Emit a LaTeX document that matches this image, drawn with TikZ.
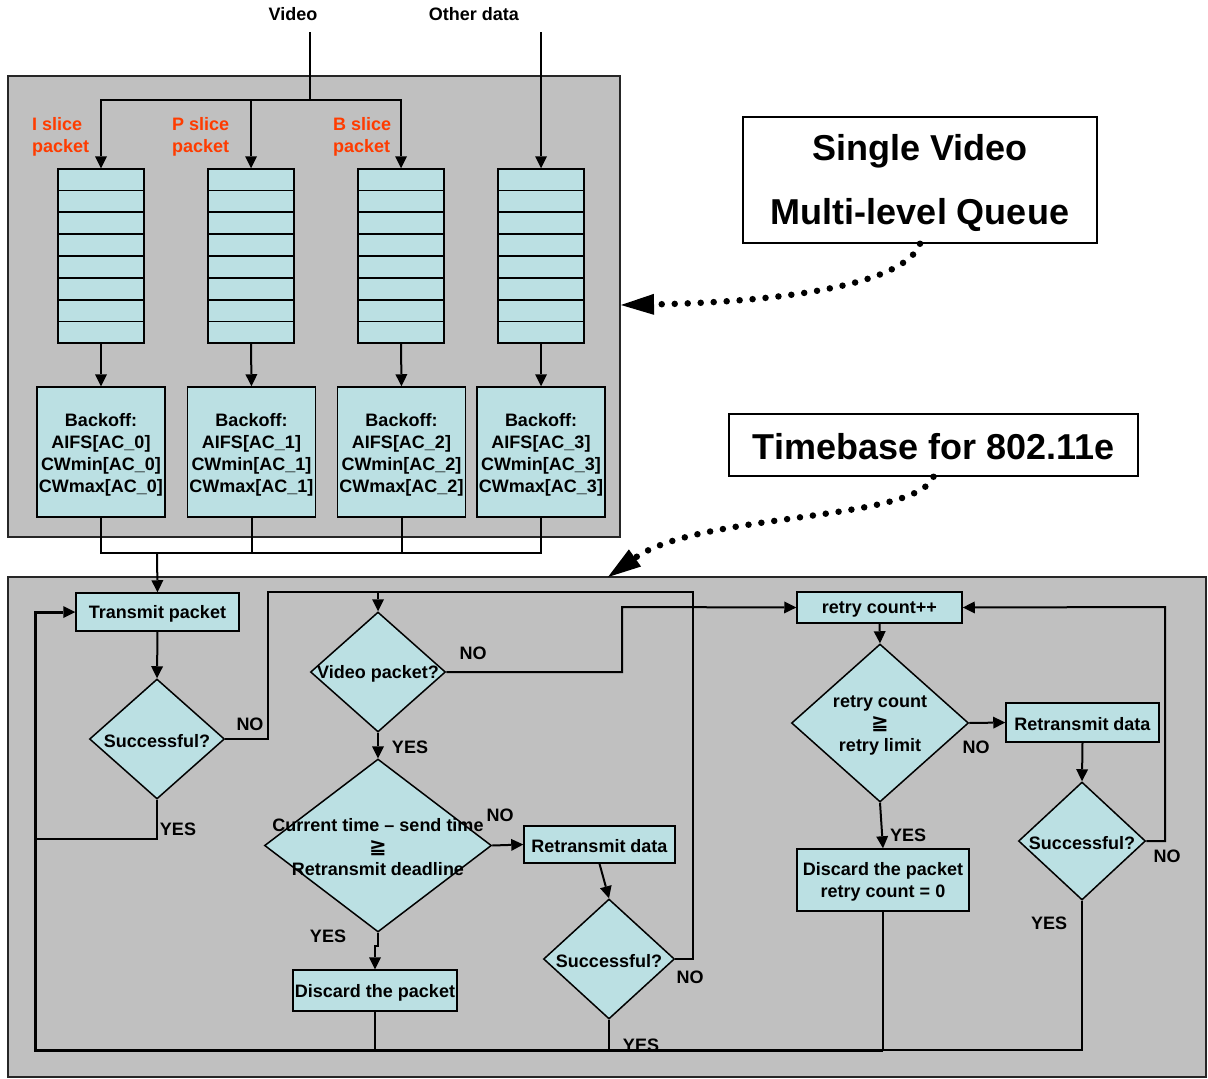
\documentclass[tikz,border=0pt]{standalone}
\usepackage{fontspec}
\setmainfont{Liberation Sans}
\newfontfamily\symfont{DejaVu Sans}
\usetikzlibrary{arrows.meta,shapes.geometric,calc}
\definecolor{panelgray}{RGB}{192,192,192}
\definecolor{boxcyan}{RGB}{187,224,227}
\definecolor{slicered}{RGB}{255,60,0}
\newcommand{\gqsym}{{\symfont\fontsize{21}{21}\selectfont ≧}}
\begin{document}
\begin{tikzpicture}[x=1pt,y=-1pt,
  every node/.style={font=\bfseries\fontsize{18}{22}\selectfont, inner sep=0pt},
  box/.style={draw, line width=1.5pt, fill=boxcyan, align=center},
  panel/.style={draw=black!85, line width=1.3pt, fill=panelgray},
  dia/.style={diamond, draw, line width=1.5pt, fill=boxcyan},
  dtext/.style={align=center, yshift=-2pt},
  conn/.style={line width=2pt},
  arr/.style={line width=2pt, -{Triangle[length=12pt,width=12pt,line width=0pt]}},
  bus/.style={line width=3pt},
  busarr/.style={line width=3pt, -{Triangle[length=12pt,width=12pt,line width=0pt]}},
  title/.style={draw, line width=1.5pt, fill=white, align=center,
    font=\bfseries\fontsize{36}{64}\selectfont},
  dots/.style={line width=6.5pt, line cap=round, dash pattern=on 0pt off 13pt,
    -{Triangle[length=33pt,width=21pt,line width=0pt]}},
  slice/.style={text=slicered, align=left, anchor=west}
]
\useasboundingbox (0,0) rectangle (1208,1079);
\fill[white] (0,0) rectangle (1208,1079);

% panels
\node[panel, minimum width=612pt, minimum height=461pt] (toppanel) at (314,306.5) {};
\node[panel, minimum width=1198pt, minimum height=500pt] (botpanel) at (607,827) {};

% inputs
\node (vid) at (293,14) {Video};
\node (oth) at (474,14) {Other data};
\coordinate (vsrc) at (310,32);
\coordinate (vj) at (310,100);
\coordinate (osrc) at (541,32);

\node[slice] (isl) at (32,137) {I slice\\packet};
\node[slice] (psl) at (172,137) {P slice\\packet};
\node[slice] (bsl) at (333,137) {B slice\\packet};

% queues
\foreach \n/\x in {q1/101,q2/251,q3/401,q4/541}{
  \node[box, minimum width=86pt, minimum height=174pt] (\n) at (\x,256) {};
  \foreach \i in {1,...,7}
    \draw[line width=1.3pt] ($(\n.north west)!\i/8!(\n.south west)$) -- ($(\n.north east)!\i/8!(\n.south east)$);
}

% backoff stages
\foreach \n/\x/\k in {b1/101/0,b2/251.5/1,b3/401.5/2,b4/541/3}{
  \node[box, minimum width=128pt, minimum height=130pt,
    label={[dtext,yshift=-1pt]center:Backoff:\\AIFS[AC\_\k]\\CWmin[AC\_\k]\\CWmax[AC\_\k]}] (\n) at (\x,452) {};
}

% side titles
\node[title, minimum width=354pt, minimum height=126pt,
  label={[dtext,font=\bfseries\fontsize{36}{64}\selectfont,yshift=-1pt]center:Single Video\\Multi-level Queue}] (sv) at (920,180) {};
\node[title, minimum width=409pt, minimum height=62pt,
  label={[dtext,font=\bfseries\fontsize{36}{64}\selectfont]center:Timebase for 802.11e}] (tb) at (933.5,445) {};

% flowchart nodes
\node[box, minimum width=163pt, minimum height=38pt,
  label={[dtext]center:Transmit packet}] (tx) at (157.5,612) {};
\node[dia, minimum width=135pt, minimum height=120pt,
  label={[dtext]center:Successful?}] (d1) at (157,739) {};
\node[dia, minimum width=135pt, minimum height=120pt,
  label={[dtext]center:Video packet?}] (d2) at (378,672) {};
\node[dia, minimum width=227pt, minimum height=173pt,
  label={[dtext]center:Current time – send time\\\gqsym\\Retransmit deadline}] (d3) at (378,845.5) {};
\node[box, minimum width=151pt, minimum height=37pt,
  label={[dtext]center:Retransmit data}] (rt1) at (599.5,844.5) {};
\node[dia, minimum width=131pt, minimum height=120pt,
  label={[dtext]center:Successful?}] (d4) at (609,959) {};
\node[box, minimum width=164pt, minimum height=41pt,
  label={[dtext]center:Discard the packet}] (dc1) at (375,990.5) {};

\node[box, minimum width=165pt, minimum height=31pt,
  label={[dtext]center:retry count++}] (rc) at (879.5,607.5) {};
\node[dia, minimum width=177pt, minimum height=158pt,
  label={[dtext]center:retry count\\\gqsym\\retry limit}] (d5) at (880,723) {};
\node[box, minimum width=153pt, minimum height=39pt,
  label={[dtext]center:Retransmit data}] (rt2) at (1082.5,722.5) {};
\node[dia, minimum width=127pt, minimum height=118pt,
  label={[dtext]center:Successful?}] (d6) at (1082,841) {};
\node[box, minimum width=172pt, minimum height=62pt,
  label={[dtext]center:Discard the packet\\retry count = 0}] (dc2) at (883,880) {};

% helper points
\coordinate (bm) at (157,553);
\coordinate (nw) at (268,592);
\coordinate (ne) at (693,592);
\coordinate (vn) at (622,607);
\coordinate (rj) at (1165,607);
\coordinate (lc) at (35,1050);
\coordinate (y1) at (35,839);
\coordinate (bl1) at (883,1050);

% input connectors
\draw[conn] (vsrc) -- (vj);
\draw[arr] (vj) -| (q1.north);
\draw[arr] (vj) -| (q3.north);
\draw[arr] (q2.north |- vj) -- (q2.north);
\draw[arr] (osrc) -- (q4.north);
\foreach \i in {1,2,3,4} \draw[arr] (q\i.south) -- (b\i.north);
\draw[conn] (b1.south) -- (b1.south |- bm) -- (b4.south |- bm) -- (b4.south);
\draw[conn] (b2.south) -- (b2.south |- bm);
\draw[conn] (b3.south) -- (b3.south |- bm);
\draw[arr] (bm) -- (tx.north);

% flowchart connectors
\draw[arr] (tx.south) -- (d1.north);
\draw[conn] (d1.east) -| (nw) -- (ne) |- (d4.east);
\draw[arr] (d2.north |- nw) -- (d2.north);
\draw[arr] (d2.east) -| (vn) -- (rc.west);
\draw[arr] (d2.south) -- (d3.north);
\draw[arr] (d3.east) -- (rt1.west);
\draw[arr] (d3.south) -- ++(0,13) -| (dc1.north);
\draw[arr] (rt1.south) -- (d4.north);
\draw[conn] (d4.south) -- (d4.south |- lc);
\draw[conn] (dc1.south) -- (dc1.south |- lc);
\draw[conn] (d1.south) |- (y1);

\draw[arr] (rc.south) -- (d5.north);
\draw[arr] (d5.east) -- (rt2.west);
\draw[arr] (rt2.south) -- (d6.north);
\draw[arr] (d6.east) -| (rj) -- (rc.east);
\draw[arr] (d5.south) -- (dc2.north);
\draw[conn] (d6.south) |- (bl1);
\draw[conn] (dc2.south) -- (bl1);
\draw[busarr] (bl1) -- (lc) |- (tx.west);

% decision labels
\node at (250,724) {NO};
\node at (178,829) {YES};
\node at (473,653) {NO};
\node at (410,747) {YES};
\node at (500,815) {NO};
\node at (328,936) {YES};
\node at (690,977) {NO};
\node at (641,1045) {YES};
\node at (908,835) {YES};
\node at (976,747) {NO};
\node at (1167,856) {NO};
\node at (1049,923) {YES};

% dotted pointers
\coordinate (svtip) at (621,305);
\coordinate (tbtip) at (608,577);
\draw[dots] (sv.south) .. controls (905,285) and (780,302) .. (svtip);
\draw[dots] (tb.south) .. controls (915,522) and (700,512) .. (tbtip);
\end{tikzpicture}
\end{document}
